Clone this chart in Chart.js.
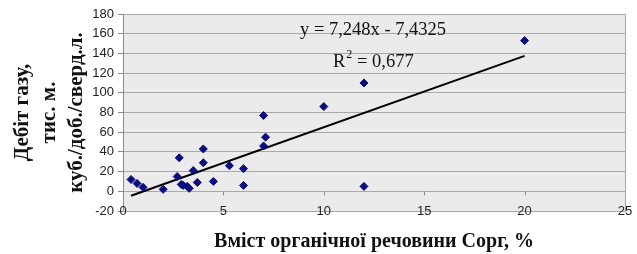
<!DOCTYPE html>
<html>
<head>
<meta charset="utf-8">
<script src="https://cdn.jsdelivr.net/npm/chart.js@4"></script>
<style>
html,body{margin:0;padding:0;background:#fff;}
#wrap{width:637px;height:254px;}
</style>
</head>
<body>
<div id="wrap"><canvas id="c" width="637" height="254"></canvas></div>
<script>
// Data
const pointsX = [0.4, 0.7, 1.0, 2.0, 2.7, 2.8, 2.9, 3.0, 3.2, 3.3, 3.5, 3.7, 4.0, 4.0, 4.5, 5.3, 6.0, 6.0, 7.0, 7.0, 7.1, 10, 12, 12, 20];
const pointsY = [12, 8, 4, 2, 15, 34, 7, 6, 5, 3, 21, 9, 43, 29, 10, 26, 23, 6, 77, 46, 55, 86, 110, 5, 153];
const trendX = [0.4, 20];
const trendY = [-4.5, 137.5];
const xTicks = [0, 5, 10, 15, 20, 25];
const yTicks = [-20, 0, 20, 40, 60, 80, 100, 120, 140, 160, 180];
const equationText = 'y = 7,248x - 7,4325';
const r2Label = 'R';
const r2Sup = '2';
const r2Value = ' = 0,677';
const xTitle = 'Вміст органічної речовини Сорг, %';
const yTitle = ['Дебіт газу,', 'тис. м.', 'куб./доб./сверд.л.'];

const pts = pointsX.map((x, i) => ({x: x, y: pointsY[i]}));
const trend = trendX.map((x, i) => ({x: x, y: trendY[i]}));

const plotDecor = {
  id: 'plotDecor',
  beforeDraw(chart) {
    const {ctx, chartArea: a} = chart;
    ctx.save();
    ctx.fillStyle = '#ebebeb';
    ctx.fillRect(a.left, a.top, a.right - a.left, a.bottom - a.top);
    ctx.restore();
  },
  beforeDatasetsDraw(chart) {
    const {ctx, scales} = chart;
    const xs = scales.x, ys = scales.y;
    const y0 = ys.getPixelForValue(0);
    ctx.save();
    ctx.strokeStyle = '#8c8c8c';
    ctx.lineWidth = 1;
    xTicks.forEach(v => {
      if (v === 0 || v === 25) return;
      const px = Math.round(xs.getPixelForValue(v)) + 0.5;
      ctx.beginPath();
      ctx.moveTo(px, y0);
      ctx.lineTo(px, y0 + 4);
      ctx.stroke();
    });
    ctx.restore();
  },
  afterDraw(chart) {
    const {ctx} = chart;
    ctx.save();
    ctx.fillStyle = '#111';
    ctx.textBaseline = 'alphabetic';
    ctx.font = '18.5px "Liberation Serif"';
    ctx.fillText(equationText, 300, 35);
    let x = 333;
    ctx.fillText(r2Label, x, 67);
    x += ctx.measureText(r2Label).width + 1;
    ctx.font = '12px "Liberation Serif"';
    ctx.fillText(r2Sup, x, 58);
    x += ctx.measureText(r2Sup).width;
    ctx.font = '18.5px "Liberation Serif"';
    ctx.fillText(r2Value, x, 67);
    ctx.restore();
  }
};

new Chart(document.getElementById('c'), {
  type: 'scatter',
  data: {
    datasets: [
      {
        data: pts,
        pointStyle: 'rectRot',
        pointRadius: 4,
        pointHoverRadius: 4,
        backgroundColor: '#0c0c80',
        borderColor: '#0c0c80',
        borderWidth: 1,
        order: 1
      },
      {
        type: 'line',
        data: trend,
        borderColor: '#000',
        borderWidth: 2,
        pointRadius: 0,
        fill: false,
        order: 2
      }
    ]
  },
  options: {
    responsive: false,
    animation: false,
    devicePixelRatio: 1,
    layout: {padding: {left: 0, right: 12, top: 14, bottom: 0}},
    plugins: {legend: {display: false}, tooltip: {enabled: false}},
    scales: {
      y: {
        type: 'linear',
        position: 'left',
        min: -20, max: 180,
        afterBuildTicks(s) { s.ticks = yTicks.map(v => ({value: v})); },
        afterFit(s) { s.width = 123; },
        grid: {
          color: ctx => ctx.tick && ctx.tick.value === -20 ? 'rgba(0,0,0,0)' : '#a8a8a8',
          lineWidth: 1,
          drawTicks: true,
          tickLength: 5,
          tickColor: '#8c8c8c'
        },
        border: {display: true, color: '#8c8c8c', width: 1},
        ticks: {
          padding: 4,
          color: '#222',
          font: {family: '"Liberation Sans"', size: 13}
        },
        title: {
          display: true,
          text: yTitle,
          color: '#111',
          font: {family: '"Liberation Serif"', size: 21, weight: 'bold', lineHeight: 1.3},
          padding: {top: 8.5, bottom: 0}
        }
      },
      x: {
        type: 'linear',
        position: 'bottom',
        min: 0, max: 25,
        afterBuildTicks(s) { s.ticks = xTicks.map(v => ({value: v})); },
        afterFit(s) { s.height = 43; },
        grid: {
          drawTicks: false,
          color: ctx => ctx.tick && ctx.tick.value === 25 ? '#a8a8a8' : 'rgba(0,0,0,0)',
          lineWidth: 1
        },
        border: {display: true, color: '#a8a8a8', width: 1},
        ticks: {
          mirror: true,
          padding: -8,
          maxRotation: 0,
          autoSkip: false,
          color: '#222',
          font: {family: '"Liberation Sans"', size: 13}
        },
        title: {
          display: true,
          text: xTitle,
          color: '#111',
          font: {family: '"Liberation Serif"', size: 20, weight: 'bold', lineHeight: 1.2},
          padding: {top: 0, bottom: 0}
        }
      }
    }
  },
  plugins: [plotDecor]
});
</script>
</body>
</html>
